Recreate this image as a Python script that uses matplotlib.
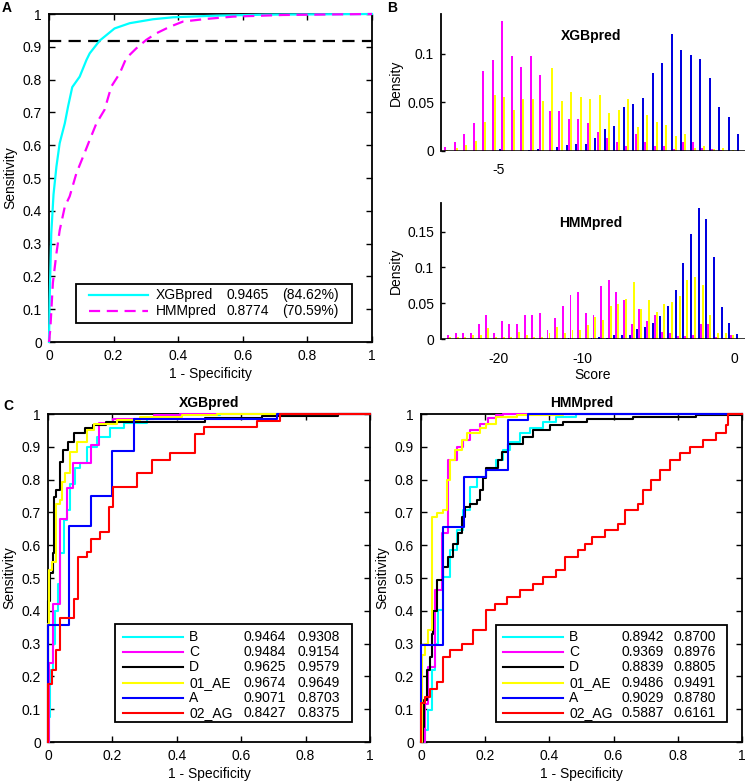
import numpy as np
import matplotlib

matplotlib.use("Agg")
import matplotlib.pyplot as plt
from matplotlib.lines import Line2D
from matplotlib.patches import Rectangle

W, H = 746, 784
CYAN = "#00ffff"
MAGENTA = "#ff00ff"
YELLOW = "#ffff00"
BLUE = "#0000ff"
RED = "#ff0000"
BLACK = "#000000"

# ---- panel A: overall ROC -------------------------------------------------
xgb_fpr = [0, 0.002, 0.007, 0.014, 0.023, 0.033, 0.049, 0.059, 0.072, 0.095, 0.116,
           0.126, 0.157, 0.203, 0.25, 0.322, 0.384, 0.518, 0.673, 1.0]
xgb_tpr = [0, 0.13, 0.33, 0.45, 0.535, 0.606, 0.667, 0.718, 0.777, 0.809, 0.86,
           0.88, 0.919, 0.956, 0.972, 0.984, 0.99, 0.995, 0.998, 1.0]
hmm_fpr = [0, 0.004, 0.012, 0.023, 0.033, 0.049, 0.064, 0.085, 0.11, 0.126, 0.147, 0.172,
           0.193, 0.219, 0.239, 0.27, 0.301, 0.332, 0.374, 0.415, 0.487, 0.57, 0.724, 1.0]
hmm_tpr = [0, 0.038, 0.18, 0.27, 0.34, 0.413, 0.444, 0.515, 0.576, 0.616, 0.667, 0.708,
           0.779, 0.819, 0.865, 0.895, 0.921, 0.941, 0.961, 0.977, 0.985, 0.992, 0.997, 1.0]
cutoff_tpr = 0.918
overall_names = ["XGBpred", "HMMpred"]
overall_auc = [0.9465, 0.8774]
overall_pct = ["(84.62%)", "(70.59%)"]

# ---- panel B: score histograms (magenta, yellow, blue series per bin) ------
xgb_magenta = [0.004, 0.009, 0.017, 0.029, 0.082, 0.094, 0.134, 0.098, 0.086, 0.098, 0.078,
               0.041, 0.041, 0.033, 0.033, 0.029, 0.020, 0.013, 0.009, 0.005, 0.017, 0.009,
               0.005, 0.005, 0.002, 0.009, 0.009, 0.003, 0.002, 0.001, 0.0, 0.0]
xgb_yellow = [0.001, 0.003, 0.006, 0.010, 0.030, 0.058, 0.056, 0.042, 0.054, 0.054, 0.051,
              0.085, 0.051, 0.061, 0.056, 0.054, 0.058, 0.039, 0.042, 0.054, 0.025, 0.037,
              0.030, 0.027, 0.015, 0.017, 0.003, 0.005, 0.002, 0.003, 0.001, 0.0]
xgb_blue = [0, 0, 0, 0, 0, 0, 0.002, 0, 0, 0.001, 0.002, 0, 0.004, 0.006, 0.007, 0.007,
            0.013, 0.023, 0.026, 0.045, 0.048, 0.055, 0.080, 0.091, 0.120, 0.104, 0.099,
            0.095, 0.075, 0.045, 0.035, 0.017]
xgb_ticks = [5.64]
xgb_tick_labels = ["-5"]

hmm_magenta = [0.005, 0.009, 0.009, 0.009, 0.021, 0.034, 0.009, 0.025, 0.021, 0.021, 0.034,
               0.034, 0.037, 0.013, 0.029, 0.046, 0.062, 0.066, 0.037, 0.034, 0.074, 0.083,
               0.066, 0.055, 0.021, 0.042, 0.025, 0.034, 0.010, 0.009, 0.004, 0.004, 0.005,
               0.021, 0.021, 0.003, 0.002, 0.005, 0.0]
hmm_yellow = [0.003, 0.003, 0.003, 0.005, 0.006, 0.015, 0.003, 0.003, 0.003, 0.010, 0.005,
              0.003, 0.003, 0.008, 0.017, 0.008, 0.012, 0.012, 0.020, 0.031, 0.027, 0.046,
              0.049, 0.056, 0.080, 0.042, 0.054, 0.038, 0.049, 0.051, 0.060, 0.083, 0.087,
              0.075, 0.034, 0.008, 0.008, 0.006, 0.0]
hmm_blue = [0, 0, 0, 0, 0, 0, 0, 0, 0, 0, 0, 0, 0, 0, 0, 0, 0.001, 0, 0, 0.002, 0.003,
            0.002, 0.005, 0.005, 0.005, 0.014, 0.017, 0.022, 0.032, 0.046, 0.069, 0.106,
            0.147, 0.183, 0.167, 0.115, 0.045, 0.022, 0.007]
hmm_ticks = [6.57, 17.56, 37.43]
hmm_tick_labels = ["-20", "-10", "0"]

# ---- panel C: ROC per subtype (corner points of the staircases) -----------
subtypes = ["B", "C", "D", "01_AE", "A", "02_AG"]
subtype_colors = [CYAN, MAGENTA, BLACK, YELLOW, BLUE, RED]

xgb_B_x = [0, 0.003, 0.007, 0.015, 0.023, 0.03, 0.038, 0.049, 0.059, 0.069, 0.085, 0.1,
           0.121, 0.152, 0.193, 0.235, 0.307, 0.41, 0.535, 1.0]
xgb_B_y = [0, 0.076, 0.219, 0.3, 0.40, 0.483, 0.575, 0.676, 0.707, 0.788, 0.834, 0.85,
           0.9, 0.93, 0.956, 0.973, 0.987, 0.997, 1.0, 1.0]
xgb_C_x = [0, 0.002, 0.016, 0.038, 0.058, 0.078, 0.135, 0.158, 0.203, 0.328, 0.41, 1.0]
xgb_C_y = [0, 0.24, 0.42, 0.68, 0.773, 0.85, 0.905, 0.972, 0.984, 0.997, 1.0, 1.0]
xgb_D_x = [0, 0, 0.007, 0.015, 0.018, 0.026, 0.036, 0.048, 0.062, 0.08, 0.115, 0.14,
           0.18, 0.488, 0.664, 0.9, 1.0]
xgb_D_y = [0, 0.43, 0.514, 0.575, 0.746, 0.768, 0.855, 0.89, 0.916, 0.941, 0.956, 0.966,
           0.977, 0.987, 0.994, 1.0, 1.0]
xgb_AE_x = [0, 0, 0.002, 0.012, 0.025, 0.038, 0.043, 0.054, 0.069, 0.09, 0.121, 0.142,
            0.214, 0.286, 0.416, 0.524, 1.0]
xgb_AE_y = [0, 0.36, 0.524, 0.55, 0.727, 0.738, 0.793, 0.819, 0.885, 0.916, 0.951, 0.97,
            0.982, 0.992, 0.997, 1.0, 1.0]
xgb_A_x = [0, 0, 0.066, 0.133, 0.2, 0.266, 0.71, 1.0]
xgb_A_y = [0, 0.356, 0.66, 0.75, 0.887, 0.984, 1.0, 1.0]
xgb_AG_x = [0, 0, 0.012, 0.026, 0.038, 0.080, 0.093, 0.121, 0.133, 0.162, 0.188, 0.202,
            0.276, 0.323, 0.380, 0.457, 0.483, 0.648, 0.719, 1.0]
xgb_AG_y = [0, 0.178, 0.219, 0.28, 0.379, 0.437, 0.565, 0.58, 0.62, 0.641, 0.717, 0.778,
            0.819, 0.86, 0.88, 0.939, 0.961, 0.98, 1.0, 1.0]

hmm_B_x = [0, 0.012, 0.023, 0.033, 0.044, 0.054, 0.07, 0.09, 0.111, 0.132, 0.152, 0.173,
           0.204, 0.235, 0.256, 0.277, 0.308, 0.339, 0.381, 0.422, 0.484, 1.0]
hmm_B_y = [0, 0.036, 0.097, 0.219, 0.3, 0.402, 0.504, 0.585, 0.646, 0.707, 0.778, 0.809,
           0.829, 0.86, 0.89, 0.916, 0.941, 0.956, 0.977, 0.992, 1.0, 1.0]
hmm_C_x = [0, 0.012, 0.023, 0.044, 0.064, 0.085, 0.111, 0.132, 0.152, 0.184, 0.21, 0.235,
           0.256, 1.0]
hmm_C_y = [0, 0.117, 0.229, 0.463, 0.636, 0.86, 0.9, 0.921, 0.951, 0.971, 0.987, 0.997,
           1.0, 1.0]
hmm_D_x = [0, 0.007, 0.009, 0.018, 0.028, 0.033, 0.038, 0.049, 0.07, 0.085, 0.1, 0.116,
           0.127, 0.137, 0.152, 0.173, 0.184, 0.194, 0.204, 0.241, 0.251, 0.272, 0.318,
           0.35, 0.401, 0.443, 0.516, 0.661, 0.858, 1.0]
hmm_D_y = [0, 0.046, 0.127, 0.219, 0.26, 0.33, 0.40, 0.493, 0.534, 0.565, 0.605, 0.636,
           0.687, 0.717, 0.727, 0.738, 0.768, 0.804, 0.834, 0.86, 0.885, 0.91, 0.931,
           0.951, 0.966, 0.977, 0.984, 0.992, 0.997, 1.0]
hmm_AE_x = [0, 0.002, 0.012, 0.023, 0.033, 0.049, 0.07, 0.08, 0.09, 0.106, 0.127, 0.142,
            0.184, 0.204, 0.235, 0.298, 0.443, 1.0]
hmm_AE_y = [0, 0.265, 0.3, 0.34, 0.687, 0.697, 0.707, 0.799, 0.86, 0.89, 0.921, 0.941,
            0.956, 0.971, 0.992, 0.997, 1.0, 1.0]
hmm_A_x = [0, 0, 0.07, 0.135, 0.204, 0.272, 0.334, 1.0]
hmm_A_y = [0, 0.295, 0.656, 0.809, 0.829, 0.982, 1.0, 1.0]
hmm_AG_x = [0, 0, 0.012, 0.028, 0.049, 0.07, 0.09, 0.127, 0.163, 0.204, 0.231, 0.267,
            0.308, 0.35, 0.381, 0.422, 0.448, 0.49, 0.511, 0.532, 0.573, 0.614, 0.635,
            0.676, 0.692, 0.718, 0.744, 0.775, 0.806, 0.837, 0.879, 0.92, 0.951, 0.956, 1.0]
hmm_AG_y = [0, 0.119, 0.137, 0.163, 0.183, 0.26, 0.28, 0.3, 0.34, 0.402, 0.422, 0.443,
            0.463, 0.483, 0.504, 0.524, 0.565, 0.585, 0.605, 0.626, 0.646, 0.666, 0.707,
            0.727, 0.768, 0.799, 0.829, 0.86, 0.88, 0.9, 0.921, 0.941, 0.966, 1.0, 1.0]

xgb_auc = [0.9464, 0.9484, 0.9625, 0.9674, 0.9071, 0.8427]
xgb_auc_adj = [0.9308, 0.9154, 0.9579, 0.9649, 0.8703, 0.8375]
hmm_auc = [0.8942, 0.9369, 0.8839, 0.9486, 0.9029, 0.5887]
hmm_auc_adj = [0.8700, 0.8976, 0.8805, 0.9491, 0.8780, 0.6161]

xgb_curves = [(xgb_B_x, xgb_B_y), (xgb_C_x, xgb_C_y), (xgb_D_x, xgb_D_y),
              (xgb_AE_x, xgb_AE_y), (xgb_A_x, xgb_A_y), (xgb_AG_x, xgb_AG_y)]
hmm_curves = [(hmm_B_x, hmm_B_y), (hmm_C_x, hmm_C_y), (hmm_D_x, hmm_D_y),
              (hmm_AE_x, hmm_AE_y), (hmm_A_x, hmm_A_y), (hmm_AG_x, hmm_AG_y)]

plt.rcParams["font.family"] = ["Liberation Sans", "DejaVu Sans"]
plt.rcParams["font.size"] = 10


def box(x0, y0, x1, y1):
    """Pixel box (top-left origin) -> figure-fraction rect."""
    return [x0 / W, 1 - y1 / H, (x1 - x0) / W, (y1 - y0) / H]


def fx(x):
    return x / W


def fy(y):
    return 1 - y / H


def roc_axes(ax):
    ax.set_xlim(0, 1)
    ax.set_ylim(0, 1)
    ax.set_xticks(np.linspace(0, 1, 6))
    ax.set_yticks(np.linspace(0, 1, 11))
    ax.set_xticklabels([f"{v:g}" for v in np.round(np.linspace(0, 1, 6), 1)])
    ax.set_yticklabels([f"{v:g}" for v in np.round(np.linspace(0, 1, 11), 1)])
    ax.tick_params(direction="in", top=True, right=True, length=4, width=1, pad=5)
    for sp in ax.spines.values():
        sp.set_linewidth(1.3)
    ax.set_xlabel("1 - Specificity", labelpad=3)
    ax.set_ylabel("Sensitivity", labelpad=4)


def legend(fig, rect, line_x, row_y, handles, columns):
    x0, y0, x1, y1 = rect
    fig.add_artist(Rectangle((fx(x0), fy(y1)), (x1 - x0) / W, (y1 - y0) / H,
                             transform=fig.transFigure, facecolor="white",
                             edgecolor="black", linewidth=1.3, zorder=5))
    for y, (color, ls, lw) in zip(row_y, handles):
        fig.add_artist(Line2D([fx(line_x[0]), fx(line_x[1])], [fy(y), fy(y)],
                              transform=fig.transFigure, color=color, ls=ls, lw=lw,
                              zorder=6))
    for cx, texts in columns:
        for y, t in zip(row_y, texts):
            fig.text(fx(cx), fy(y), t, ha="left", va="center", fontsize=10, zorder=6)


fig = plt.figure(figsize=(W / 100, H / 100), dpi=100)

# ---- A
axA = fig.add_axes(box(49, 14, 372, 342))
axA.axhline(cutoff_tpr, color=BLACK, lw=1.6, ls=(0, (5.5, 3.3)), zorder=1)
axA.plot(xgb_fpr, xgb_tpr, color=CYAN, lw=1.6, zorder=3, clip_on=False)
axA.plot(hmm_fpr, hmm_tpr, color=MAGENTA, lw=1.6, ls=(0, (5, 3)), zorder=3, clip_on=False)
roc_axes(axA)
legend(fig, (76, 284, 352, 323), (89, 148), [295, 311],
       [(CYAN, "-", 1.6), (MAGENTA, (0, (5, 3)), 1.6)],
       [(156, overall_names), (227, [f"{v:.4f}" for v in overall_auc]), (282, overall_pct)])


# ---- B
def hist_axes(rect, magenta, yellow, blue, off, width, xlim, ylim, yticks, ticks, labels):
    ax = fig.add_axes(rect)
    x = np.arange(len(magenta))
    ax.bar(x - off, blue, width, color="#0000e0", linewidth=0)
    ax.bar(x, magenta, width, color=MAGENTA, linewidth=0)
    ax.bar(x + off, yellow, width, color=YELLOW, linewidth=0)
    ax.axhline(0, color=BLACK, lw=1.1, zorder=3)
    ax.set_xlim(*xlim)
    ax.set_ylim(*ylim)
    ax.set_yticks(yticks)
    ax.set_yticklabels([f"{v:g}" for v in yticks])
    ax.set_xticks(ticks)
    ax.set_xticklabels(labels)
    for s in ("top", "right", "bottom"):
        ax.spines[s].set_visible(False)
    ax.spines["left"].set_linewidth(1.3)
    ax.tick_params(axis="y", direction="in", length=3, width=1, pad=5)
    ax.tick_params(axis="x", length=0, pad=9)
    ax.set_ylabel("Density", labelpad=3)
    return ax


hist_axes(box(441, 14, 745, 151), xgb_magenta, xgb_yellow, xgb_blue, 0.22, 0.21,
          (-0.45, 31.5), (0, 0.141), [0, 0.05, 0.1], xgb_ticks, xgb_tick_labels)
axB2 = hist_axes(box(441, 203, 745, 339), hmm_magenta, hmm_yellow, hmm_blue, 0.26, 0.25,
                 (-0.92, 38.8), (0, 0.19), [0, 0.05, 0.1, 0.15], hmm_ticks, hmm_tick_labels)
axB2.set_xlabel("Score", labelpad=2)
fig.text(fx(591), fy(36), "XGBpred", ha="center", va="center", weight="bold")
fig.text(fx(591), fy(223), "HMMpred", ha="center", va="center", weight="bold")

# ---- C
rows = [637 + 15.2 * i for i in range(6)]
for rect, curves, auc, adj, title, lbox, lx, cols in [
    (box(48, 414, 370, 742), xgb_curves, xgb_auc, xgb_auc_adj, "XGBpred",
     (115, 624, 352, 722), (123, 183), (189, 243, 298)),
    (box(421, 414, 742, 742), hmm_curves, hmm_auc, hmm_auc_adj, "HMMpred",
     (496, 625, 727, 722), (503, 563), (569, 622, 674)),
]:
    ax = fig.add_axes(rect)
    for (cx, cy), color in zip(curves, subtype_colors):
        ax.step(cx, cy, where="post", color=color, lw=1.5, zorder=3, clip_on=False)
    roc_axes(ax)
    ax.set_title(title, weight="bold", fontsize=10, pad=5)
    legend(fig, lbox, lx, rows, [(c, "-", 1.5) for c in subtype_colors],
           [(cols[0], subtypes), (cols[1], [f"{v:.4f}" for v in auc]),
            (cols[2], [f"{v:.4f}" for v in adj])])

fig.text(fx(7), fy(8), "A", ha="center", va="center", weight="bold")
fig.text(fx(392), fy(8), "B", ha="center", va="center", weight="bold")
fig.text(fx(8), fy(406), "C", ha="center", va="center", weight="bold")

fig.savefig("out.png", dpi=100, facecolor="white")
